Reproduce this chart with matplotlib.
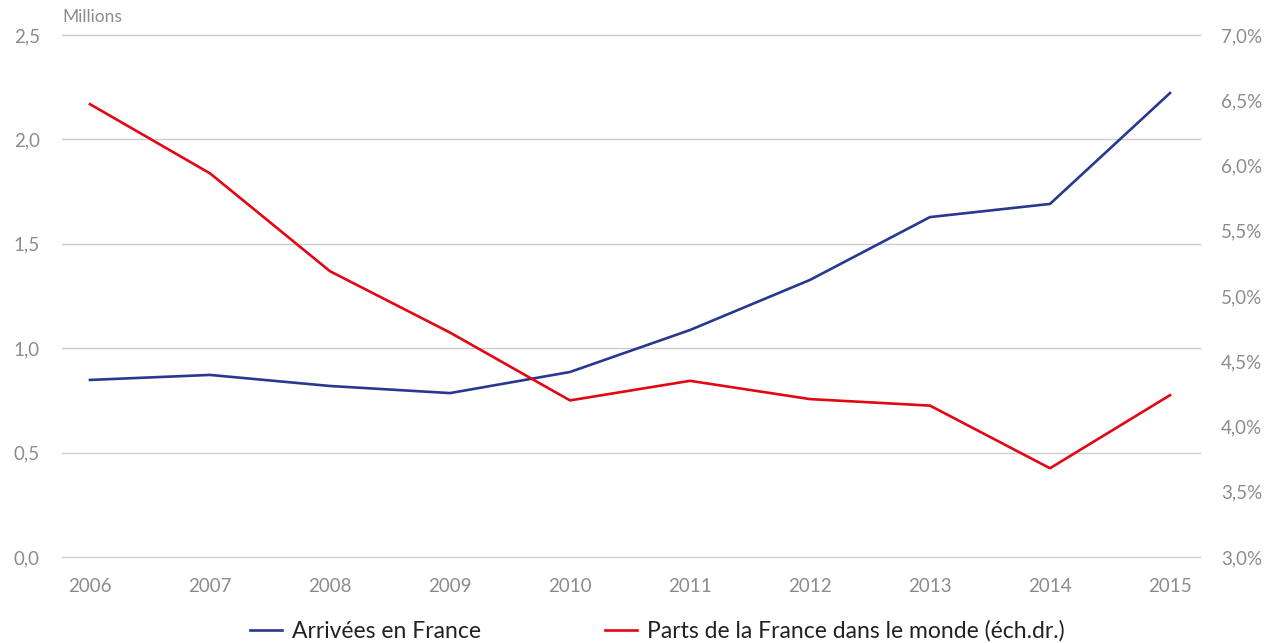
import matplotlib.pyplot as plt
from matplotlib.ticker import FuncFormatter

plt.rcParams['font.family'] = ['Lato', 'DejaVu Sans']

years = [2006, 2007, 2008, 2009, 2010, 2011, 2012, 2013, 2014, 2015]
arrivees = [0.848, 0.872, 0.819, 0.785, 0.886, 1.087, 1.327, 1.628, 1.691, 2.222]
parts = [6.47, 5.94, 5.19, 4.72, 4.20, 4.35, 4.21, 4.16, 3.68, 4.24]

blue = '#283891'
red = '#e30613'
grey = '#8c8c8c'

fig = plt.figure(figsize=(12.69, 6.43), dpi=100)
ax = fig.add_axes([62 / 1269, 1 - 557 / 643, (1200 - 62) / 1269, (557 - 35) / 643])
ax2 = ax.twinx()

l1, = ax.plot(years, arrivees, color=blue, lw=1.9, label='Arrivées en France')
l2, = ax2.plot(years, parts, color=red, lw=1.9, label='Parts de la France dans le monde (éch.dr.)')

ax.set_xlim(2005.767, 2015.25)
ax.set_ylim(0, 2.5)
ax2.set_ylim(3.0, 7.0)
ax.set_xticks(years)
ax.set_yticks([0, 0.5, 1.0, 1.5, 2.0, 2.5])
ax2.set_yticks([3.0, 3.5, 4.0, 4.5, 5.0, 5.5, 6.0, 6.5, 7.0])
ax.yaxis.set_major_formatter(FuncFormatter(lambda v, p: f"{v:.1f}".replace('.', ',')))
ax2.yaxis.set_major_formatter(FuncFormatter(lambda v, p: f"{v:.1f}%".replace('.', ',')))

ax.grid(axis='y', color='#cccccc', lw=1)
for gl in ax.get_ygridlines():
    gl.set_clip_on(False)
ax.set_axisbelow(True)
for a in (ax, ax2):
    for s in a.spines.values():
        s.set_visible(False)
    a.tick_params(length=0, labelsize=13.5, colors=grey)
ax.tick_params(axis='y', pad=16)
ax.tick_params(axis='x', pad=15)
ax2.tick_params(axis='y', pad=15)

fig.text(62 / 1269, 1 - 17 / 643, 'Millions', color=grey, fontsize=12.5, va='center', ha='left')

fig.legend(handles=[l1, l2], loc='center', bbox_to_anchor=(0.518, 1 - 631 / 643), ncol=2,
           frameon=False, fontsize=16.5, handlelength=1.4, handletextpad=0.45,
           columnspacing=5.4, labelcolor='#222222')

fig.savefig('out.png', dpi=100)
